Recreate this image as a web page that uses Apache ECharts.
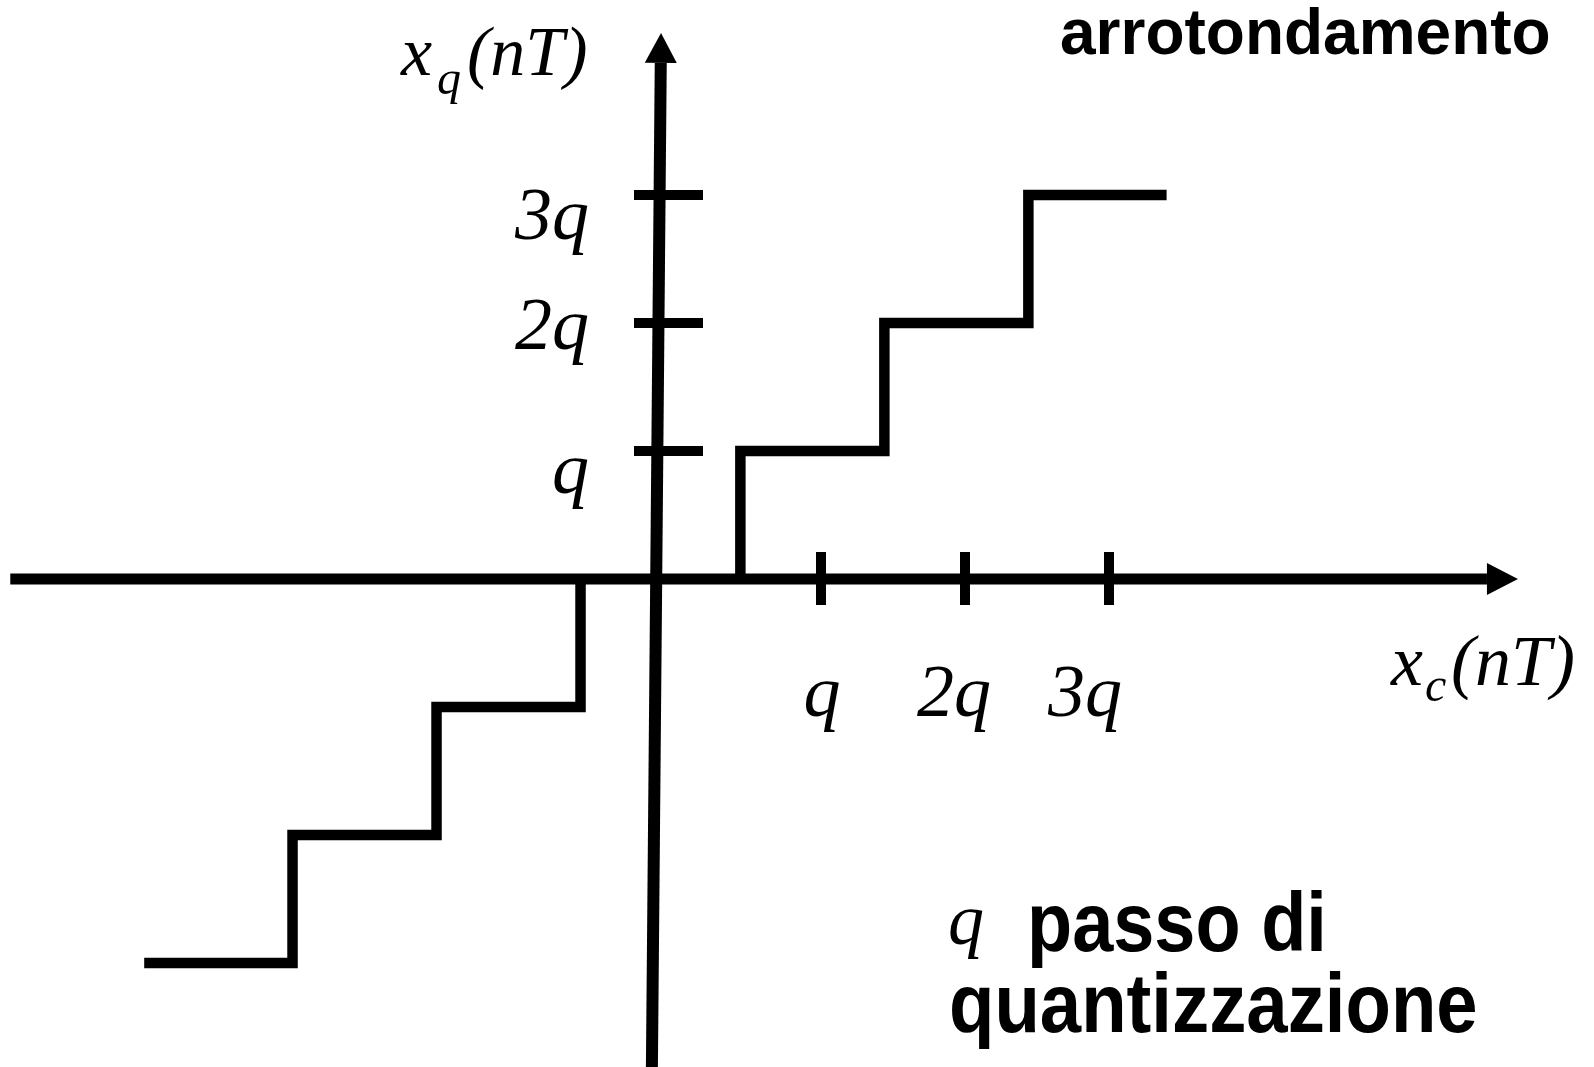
<!DOCTYPE html>
<html>
<head>
<meta charset="utf-8">
<script src="https://cdn.jsdelivr.net/npm/echarts@6/dist/echarts.min.js"></script>
<style>
  html, body { margin: 0; padding: 0; background: #ffffff; }
  #chart { width: 1594px; height: 1067px; }
</style>
</head>
<body>
<div id="chart"></div>
<script>
// Rounding quantizer: output level versus input, everything in units of the step q.
const levelValues = [1, 2, 3];
const levelLabels = ['q', '2q', '3q'];
const inputTickValues = [1, 2, 3];
const inputTickLabels = ['q', '2q', '3q'];

// Positive branch: inputs where the output jumps, the level reached, last input drawn.
const posJumpInputs = [0.44, 1.44, 2.44];
const posLevels = [1, 2, 3];
const posLastInput = 3.40;

// Negative branch.
const negJumpInputs = [-0.67, -1.67, -2.67];
const negLevels = [-1, -2, -3];
const negLastInput = -3.70;

// Axis arrows (input axis along output = 0, output axis slightly tilted).
const inputAxisSpan = [-4.63, 5.84];
const outputAxisBottom = [-0.175, -3.9];
const outputAxisTop = [-0.111, 4.266];

// ---------------------------------------------------------------------------
const INK = '#000000';
const SERIF_IT = 'italic 74px "Liberation Serif", "Times New Roman", serif';
const LABEL_IT = 'italic 70px "Liberation Serif", "Times New Roman", serif';
const LABEL_IT_B = 'italic 72px "Liberation Serif", "Times New Roman", serif';
const SUB_IT = 'italic 48px "Liberation Serif", "Times New Roman", serif';
const SANS_B = 'bold 64px "Liberation Sans", Arial, Helvetica, sans-serif';
const SANS_B_BIG = 'bold 84px "Liberation Sans", Arial, Helvetica, sans-serif';

function stairs(jumps, levels, last) {
  const pts = [[jumps[0], 0]];
  for (let i = 0; i < jumps.length; i++) {
    pts.push([jumps[i], levels[i]]);
    pts.push([i + 1 < jumps.length ? jumps[i + 1] : last, levels[i]]);
  }
  return pts;
}

// pixel geometry: 144 px per q horizontally, 128 px per q vertically
const W = 1594, H = 1067, X0 = 677, Y0 = 579, SX = 144, SY = 128;

function arrowHead(tip, from, len, half) {
  const dx = tip[0] - from[0], dy = tip[1] - from[1];
  const d = Math.hypot(dx, dy);
  const ux = dx / d, uy = dy / d;
  const bx = tip[0] - ux * len, by = tip[1] - uy * len;
  return {
    base: [bx, by],
    points: [tip, [bx - uy * half, by + ux * half], [bx + uy * half, by - ux * half]]
  };
}

// small per-label offsets of the tick labels (px)
const yLabelNudge = [23, 7, 25];
const xLabelNudge = [1, -11, -24];

const chart = echarts.init(document.getElementById('chart'), null, { renderer: 'canvas' });

chart.setOption({
  animation: false,
  backgroundColor: '#ffffff',
  grid: { left: 0, right: 0, top: 0, bottom: 0, containLabel: false },
  xAxis: {
    type: 'value', min: -X0 / SX, max: (W - X0) / SX, show: false
  },
  yAxis: {
    type: 'value', min: (Y0 - H) / SY, max: Y0 / SY, show: false
  },
  series: [
    {
      name: 'axes',
      type: 'custom',
      silent: true,
      z: 2,
      data: [[0, 0]],
      renderItem: function (params, api) {
        const hStart = api.coord([inputAxisSpan[0], 0]);
        const hTip = api.coord([inputAxisSpan[1], 0]);
        const hArrow = arrowHead(hTip, hStart, 31, 16);
        const vStart = api.coord(outputAxisBottom);
        const vTip = api.coord(outputAxisTop);
        const vArrow = arrowHead(vTip, vStart, 30, 16);
        return {
          type: 'group',
          children: [
            { type: 'line', shape: { x1: hStart[0], y1: hStart[1], x2: hArrow.base[0], y2: hArrow.base[1] },
              style: { stroke: INK, lineWidth: 11 } },
            { type: 'polygon', shape: { points: hArrow.points }, style: { fill: INK } },
            { type: 'line', shape: { x1: vStart[0], y1: vStart[1], x2: vArrow.base[0], y2: vArrow.base[1] },
              style: { stroke: INK, lineWidth: 12 } },
            { type: 'polygon', shape: { points: vArrow.points }, style: { fill: INK } }
          ]
        };
      }
    },
    {
      name: 'input ticks',
      type: 'custom',
      silent: true,
      z: 2,
      data: inputTickValues.map(function (v, i) { return [v, 0, i]; }),
      renderItem: function (params, api) {
        const i = api.value(2);
        const p = api.coord([api.value(0), 0]);
        return {
          type: 'group',
          children: [
            { type: 'line', shape: { x1: p[0], y1: p[1] - 27, x2: p[0], y2: p[1] + 26 },
              style: { stroke: INK, lineWidth: 10 } },
            { type: 'text', x: p[0] + xLabelNudge[i], y: p[1] + 118,
              style: { text: inputTickLabels[i], font: SERIF_IT, fill: INK, align: 'center', verticalAlign: 'middle' } }
          ]
        };
      }
    },
    {
      name: 'output ticks',
      type: 'custom',
      silent: true,
      z: 2,
      data: levelValues.map(function (v, i) { return [0, v, i]; }),
      renderItem: function (params, api) {
        const i = api.value(2);
        const p = api.coord([0, api.value(1)]);
        return {
          type: 'group',
          children: [
            { type: 'line', shape: { x1: p[0] - 43, y1: p[1], x2: p[0] + 26, y2: p[1] },
              style: { stroke: INK, lineWidth: 10 } },
            { type: 'text', x: p[0] - 88, y: p[1] + yLabelNudge[i],
              style: { text: levelLabels[i], font: SERIF_IT, fill: INK, align: 'right', verticalAlign: 'middle' } }
          ]
        };
      }
    },
    {
      name: 'positive levels',
      type: 'line',
      data: stairs(posJumpInputs, posLevels, posLastInput),
      symbol: 'none',
      silent: true,
      z: 3,
      lineStyle: { color: INK, width: 10.5, join: 'miter', cap: 'butt' }
    },
    {
      name: 'negative levels',
      type: 'line',
      data: stairs(negJumpInputs, negLevels, negLastInput),
      symbol: 'none',
      silent: true,
      z: 3,
      lineStyle: { color: INK, width: 10.5, join: 'miter', cap: 'butt' }
    }
  ],
  graphic: [
    // output axis name x_q(nT)
    { type: 'text', x: 401, y: 57, style: { text: 'x', font: LABEL_IT, fill: INK, align: 'left', verticalAlign: 'middle' } },
    { type: 'text', x: 437, y: 81, style: { text: 'q', font: SUB_IT, fill: INK, align: 'left', verticalAlign: 'middle' } },
    { type: 'text', x: 467, y: 57, style: { text: '(nT)', font: LABEL_IT, fill: INK, align: 'left', verticalAlign: 'middle' } },
    // input axis name x_c(nT)
    { type: 'text', x: 1391, y: 666, style: { text: 'x', font: LABEL_IT_B, fill: INK, align: 'left', verticalAlign: 'middle' } },
    { type: 'text', x: 1425, y: 688, style: { text: 'c', font: SUB_IT, fill: INK, align: 'left', verticalAlign: 'middle' } },
    { type: 'text', x: 1451, y: 666, style: { text: '(nT)', font: LABEL_IT_B, fill: INK, align: 'left', verticalAlign: 'middle' } },
    // titles
    { type: 'text', x: 1060, y: 36, style: { text: 'arrotondamento', font: SANS_B, fill: INK, align: 'left', verticalAlign: 'middle' } },
    { type: 'text', x: 948, y: 925, style: { text: 'q', font: 'italic 72px "Liberation Serif", "Times New Roman", serif', fill: INK, align: 'left', verticalAlign: 'middle' } },
    { type: 'text', x: 1027, y: 928, scaleX: 0.88, style: { text: 'passo di', font: SANS_B_BIG, fill: INK, align: 'left', verticalAlign: 'middle' } },
    { type: 'text', x: 949, y: 1009, scaleX: 0.885, style: { text: 'quantizzazione', font: SANS_B_BIG, fill: INK, align: 'left', verticalAlign: 'middle' } }
  ]
});
</script>
</body>
</html>
